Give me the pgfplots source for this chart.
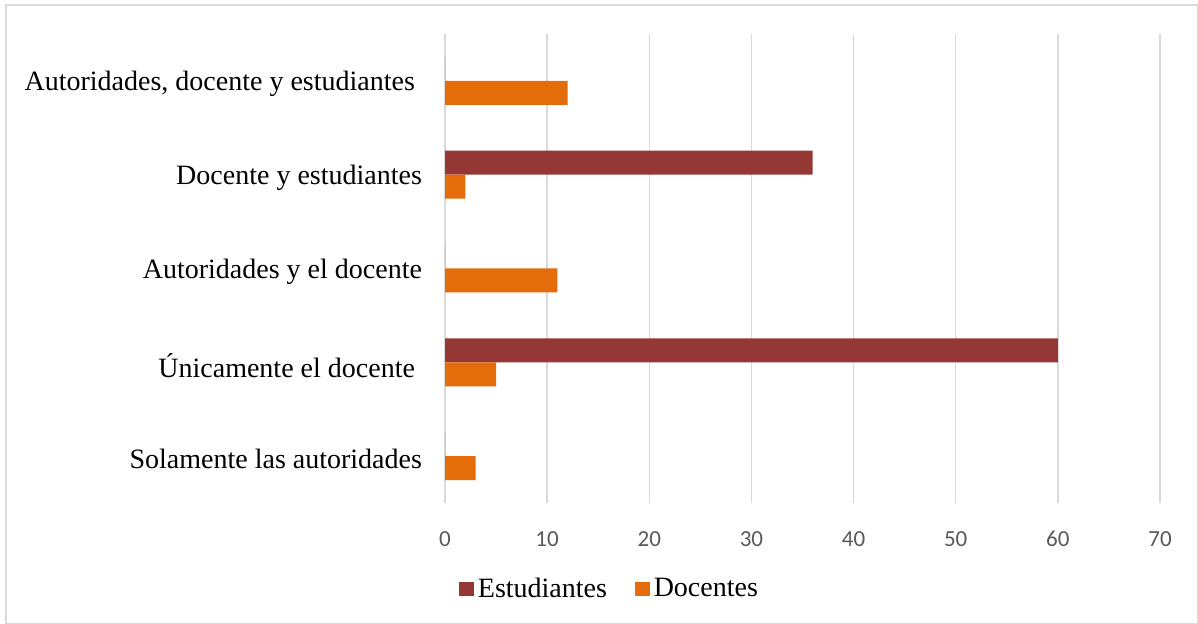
\documentclass[border=0pt]{standalone}
\usepackage{pgfplots}
\pgfplotsset{compat=1.18}
\usepackage{fontspec}
\setmainfont{Liberation Serif}
\newfontfamily\carlito{Carlito}
\definecolor{estud}{HTML}{953735}
\definecolor{docen}{HTML}{E46C0A}
\definecolor{gridc}{HTML}{D9D9D9}
\definecolor{tickc}{HTML}{595959}
\begin{document}
\begin{tikzpicture}
\path[use as bounding box] (0,0) rectangle (599pt,312pt);
\draw[gridc, line width=0.6pt] (3pt,0.4pt) rectangle (598.6pt,309.5pt);
\begin{axis}[
  at={(222.5pt,60.5pt)}, anchor=south west,
  scale only axis, width=357.5pt, height=234.5pt,
  xbar, bar width=12pt,
  xmin=0, xmax=70, ymin=0.5, ymax=5.5,
  xtick={0,10,...,70}, ytick={1,2,3,4,5},
  yticklabels={Solamente las autoridades, Únicamente el docente\kern3.5pt, Autoridades y el docente, Docente y estudiantes, {Autoridades, docente y estudiantes\kern3.5pt}},
  axis line style={draw=none}, major tick length=0pt,
  xmajorgrids, grid style={gridc, line width=0.7pt},
  /pgf/number format/assume math mode=true,
  xticklabel style={font=\carlito\fontsize{11.5}{13}\selectfont, text=tickc, yshift=-10pt, text height=8pt, text depth=0pt},
  yticklabel style={font=\fontsize{14}{16}\selectfont, xshift=-8pt, yshift=-1.5pt},
  legend style={at={(0.2315,-0.183)}, anchor=center, draw=none, legend columns=2,
    font=\fontsize{14}{16}\selectfont, /tikz/every even column/.append style={column sep=12pt}},
  legend image code/.code={\fill[#1] (0pt,-3.6pt) rectangle (7.4pt,3.6pt);},
]
\addplot[fill=estud, draw=none, bar shift=6pt] coordinates {(0,1) (60,2) (0,3) (36,4) (0,5)};
\addplot[fill=docen, draw=none, bar shift=-6pt] coordinates {(3,1) (5,2) (11,3) (2,4) (12,5)};
\legend{Estudiantes, Docentes}
\end{axis}
\end{tikzpicture}
\end{document}
